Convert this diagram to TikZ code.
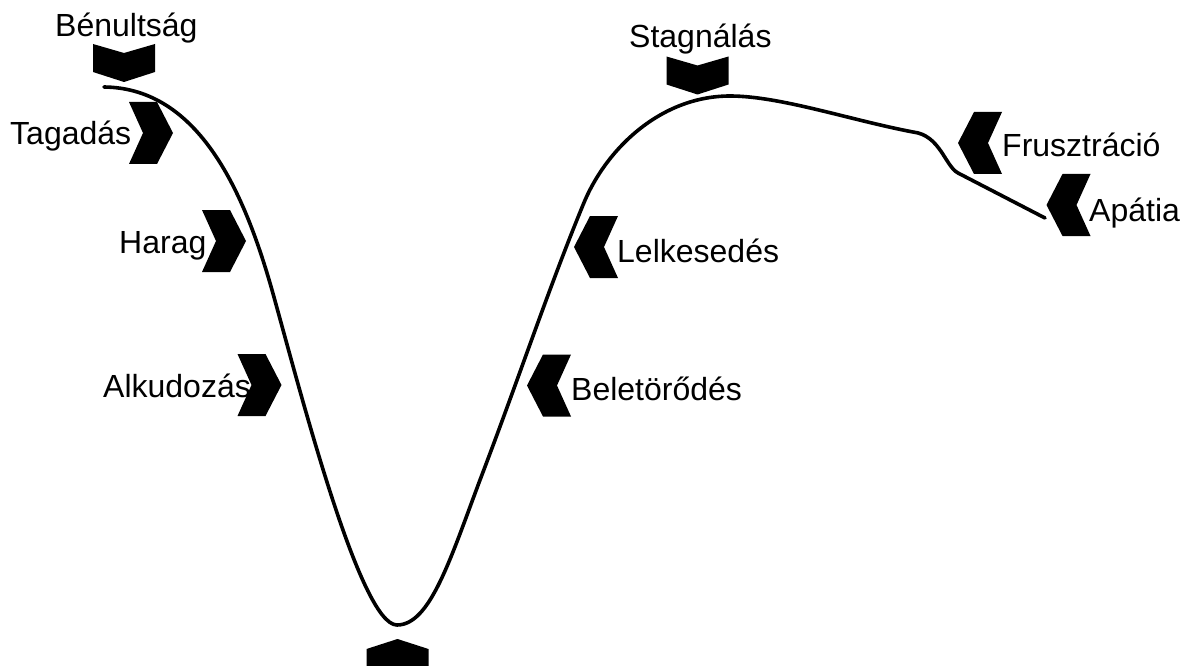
\documentclass[tikz,border=0pt]{standalone}
\usepackage{fontspec}
\setmainfont{Liberation Sans}
\begin{document}
\begin{tikzpicture}[x=1pt,y=-1pt,
  lbl/.style={inner sep=0pt, anchor=base west, font=\fontsize{32}{38}\selectfont},
  curveline/.style={line width=3.6pt, line cap=round, line join=round},
  chevR/.pic={\fill (-22,-31) -- (6,-31) -- (22,0) -- (6,31) -- (-22,31) -- (-8,0) -- cycle;},
  chevL/.pic={\fill (22,-31) -- (-6,-31) -- (-22,0) -- (-6,31) -- (22,31) -- (8,0) -- cycle;},
  chevD/.pic={\fill (-31,-19) -- (0,-10) -- (31,-19) -- (31,9) -- (0,19) -- (-31,9) -- cycle;},
  chevU/.pic={\fill (-31,19) -- (0,10) -- (31,19) -- (31,-9) -- (0,-19) -- (-31,-9) -- cycle;}]
\useasboundingbox (0,0) rectangle (1189,666);
\clip (0,0) rectangle (1189,666);

% the change curve
\coordinate (start) at (104,87);
\coordinate (fall)  at (272,290);
\coordinate (low)   at (397,625);
\coordinate (rise)  at (480,480);
\coordinate (climb) at (583,205);
\coordinate (peak)  at (730,96);
\coordinate (ease)  at (913,132);
\coordinate (drop)  at (958,173);
\coordinate (end)   at (1045,218);
\draw[curveline] (start)
  .. controls (200,88) and (245,195) .. (fall)
  .. controls (300,390) and (360,625) .. (low)
  .. controls (430,625) and (450,560) .. (rise)
  .. controls (520,375) and (548,290) .. (climb)
  .. controls (605,150) and (660,96) .. (peak)
  .. controls (780,96) and (850,120) .. (ease)
  .. controls (940,135) and (945,166) .. (drop)
  -- (end);

% stage markers
\pic at (124,63) {chevD};
\pic at (151,133) {chevR};
\pic at (224,241) {chevR};
\pic at (259.5,385) {chevR};
\pic at (397.5,658) {chevU};
\pic at (549,385.5) {chevL};
\pic at (596,247) {chevL};
\pic at (697.5,75.5) {chevD};
\pic at (980,143) {chevL};
\pic at (1068.5,205) {chevL};

% stage labels
\node[lbl] (benultsag) at (55,37) {Bénultság};
\node[lbl] (tagadas) at (10,145) {Tagadás};
\node[lbl] (harag) at (119,253) {Harag};
\node[lbl] (alkudozas) at (103,397) {Alkudozás};
\node[lbl] (stagnalas) at (629,48) {Stagnálás};
\node[lbl] (frusztracio) at (1002,157) {Frusztráció};
\node[lbl] (apatia) at (1089,222) {Apátia};
\node[lbl] (lelkesedes) at (617,262) {Lelkesedés};
\node[lbl] (beletorodes) at (571,400) {Beletörődés};
\end{tikzpicture}
\end{document}
